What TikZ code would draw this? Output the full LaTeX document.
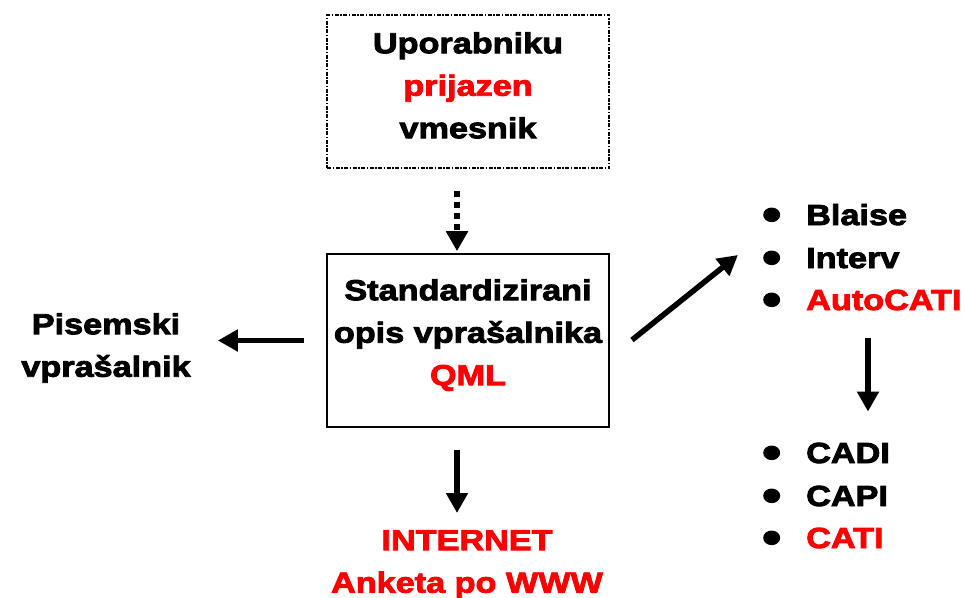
\documentclass[tikz,border=0pt]{standalone}
\usepackage{fontspec}
\setmainfont{Liberation Sans}[FakeStretch=1.18,BoldFeatures={FakeBold=3}]
\usetikzlibrary{arrows.meta,positioning}
\newcommand{\itemdot}{\makebox[44pt][l]{\raisebox{-5pt}{\fontsize{46}{46}\selectfont\textbullet}}}

\begin{document}
\begin{tikzpicture}[x=1pt,y=-1pt,
    every node/.style={inner sep=0pt,font=\fontsize{29}{42.5}\selectfont\bfseries},
    fat/.style={line width=5.5pt,-{Triangle[length=20pt,width=21pt]}},
    dotfat/.style={fat,dash pattern=on 6pt off 5pt},
    item/.style={anchor=base west}]
  \useasboundingbox (0,0) rectangle (965,597);

  % boxes
  \node[draw,line width=1.6pt,dash pattern=on 4pt off 1.5pt on 1.5pt off 1.5pt,
        minimum width=282pt,minimum height=153pt] (ui) at (468,91.5) {};
  \node[align=center,anchor=north] (uitxt) at (468,32)
        {Uporabniku\\\textcolor{red}{prijazen}\\vmesnik};
  \node[draw,line width=1.6pt,minimum width=282pt,minimum height=173pt] (qml) at (468,340.5) {};
  \node[align=center,anchor=north] (qmltxt) at (468,279)
        {Standardizirani\\opis vprašalnika\\\textcolor{red}{QML}};

  % left and bottom
  \node[align=center,anchor=north] (pis) at (106,313) {Pisemski\\vprašalnik};
  \node[align=center,anchor=north,text=red] (www) at (467,530) {INTERNET\\Anketa po WWW};

  % lists
  \node[item] (b1) at (762,225) {\itemdot Blaise};
  \node[item] (b2) at (762,268) {\itemdot Interv};
  \node[item] (b3) at (762,310) {\itemdot\textcolor{red}{AutoCATI}};
  \node[item] (c1) at (762,463) {\itemdot CADI};
  \node[item] (c2) at (762,506) {\itemdot CAPI};
  \node[item] (c3) at (762,548) {\itemdot\textcolor{red}{CATI}};

  \coordinate (diagS) at (632,340);
  \coordinate (diagE) at (738,255);
  \coordinate (rd) at (868,0);

  % arrows
  \draw[dotfat,shorten <=22pt,shorten >=2pt] (ui.south -| 457,0) -- (qml.north -| 457,0);
  \draw[fat,shorten <=22pt,shorten >=27pt] (qml.west) -- (qml.west -| pis.east);
  \draw[fat,shorten <=22pt,shorten >=17pt] (qml.south -| 457,0) -- (www.north -| 457,0);
  \draw[fat] (diagS) -- (diagE);
  \draw[fat,shorten <=28pt,shorten >=31pt] (rd |- b3.base) -- (rd |- c1.north);
\end{tikzpicture}
\end{document}
